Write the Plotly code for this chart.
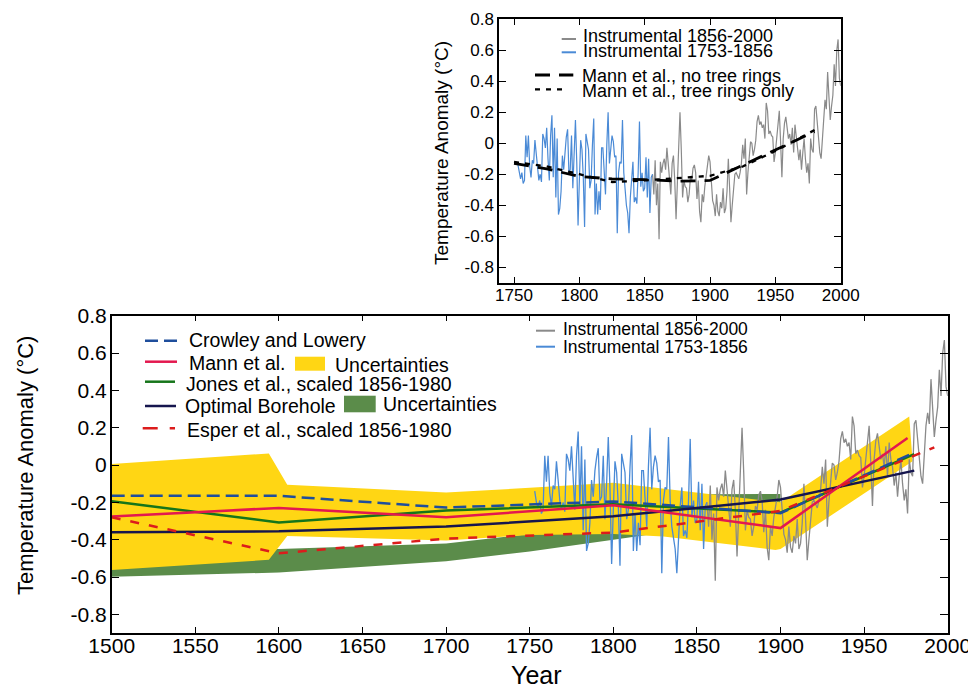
import plotly.graph_objects as go

# The page body adds an 8px offset; figure is sized so that it fills the 976x690 view.
OFF = 8
W, H = 976 - OFF, 690 - OFF


def px(x):
    return (x - OFF) / W


def py(y):
    return 1 - (y - OFF) / H


# ---------------- data ----------------
# Instrumental record (yearly anomalies)
blue_start = 1753
inst_blue = [
    -0.14, -0.20, -0.23, -0.19, -0.26, -0.24, 0.05, -0.09, 0.05, -0.15,
    -0.22, -0.11, -0.13, 0.02, -0.08, -0.19, -0.24, -0.20, -0.25, 0.06,
    0.03, -0.03, 0.10, -0.10, -0.24, 0.05, 0.18, -0.22, 0.10, -0.35,
    0.03, -0.46, -0.42, -0.31, -0.08, -0.17, -0.03, 0.04, 0.09, -0.19,
    -0.17, 0.05, -0.29, -0.10, 0.15, -0.12, -0.53, -0.24, 0.02, -0.04,
    -0.22, -0.54, 0.06, 0.01, -0.04, -0.29, -0.24, -0.01, 0.16, -0.46,
    -0.26, -0.46, -0.31, -0.43, -0.03, -0.03, -0.22, -0.33, -0.01, 0.20,
    -0.13, -0.01, 0.05, 0.01, -0.09, -0.08, -0.58, -0.19, -0.12, -0.13,
    0.15, -0.19, -0.33, -0.40, -0.45, -0.58, -0.35, -0.22, -0.12, -0.38,
    -0.35, -0.39, -0.19, 0.14, -0.28, -0.19, -0.31, -0.29, -0.09, -0.35,
    -0.10, -0.45, -0.22, -0.20,
]
grey_start = 1856
inst_grey = [
    -0.20, -0.33, -0.11, -0.40, -0.26, -0.62, -0.12, -0.19, -0.13, -0.10,
    -0.17, -0.03, -0.13, -0.24, -0.33, -0.13, -0.08, -0.24, -0.49, -0.26,
    -0.04, 0.20, -0.04, -0.35, -0.24, -0.28, -0.29, -0.38, -0.33, -0.22,
    -0.24, -0.16, -0.14, -0.19, -0.36, -0.24, -0.44, -0.51, -0.33, -0.38,
    -0.28, -0.22, -0.17, -0.08, -0.12, -0.24, -0.37, -0.40, -0.47, -0.33,
    -0.44, -0.47, -0.38, -0.42, -0.29, -0.45, -0.42, -0.31, -0.10, -0.29,
    -0.51, -0.40, -0.28, -0.20, -0.19, -0.21, -0.23, -0.19, -0.13, -0.01,
    -0.10, 0.03, -0.33, -0.19, -0.10, 0.01, 0.00, -0.08, -0.04, 0.02,
    0.14, 0.18, 0.12, 0.14, 0.10, 0.12, 0.03, 0.26, 0.21, 0.06,
    0.08, 0.05, 0.04, -0.12, -0.06, 0.03, 0.08, 0.21, 0.01, -0.22,
    0.03, 0.13, 0.17, 0.08, 0.03, 0.06, -0.01, 0.10, -0.06, 0.12,
    0.03, -0.01, -0.11, -0.04, -0.17, -0.06, 0.03, -0.10, -0.19, -0.13,
    -0.26, 0.03, -0.04, -0.06, 0.22, 0.24, 0.13, 0.03, -0.06, -0.10,
    0.03, 0.21, 0.28, 0.22, 0.46, 0.30, 0.15, 0.24, 0.31, 0.51,
    0.37, 0.60, 0.67, 0.42, 0.37,
]
blue_years = list(range(blue_start, blue_start + len(inst_blue)))
grey_years = list(range(grey_start, grey_start + len(inst_grey)))

# Reconstructions (main panel)
recon_years = [1500, 1600, 1700, 1800, 1900, 1980]
crowley = [-0.165, -0.165, -0.228, -0.195, -0.258, 0.067]
jones = [-0.194, -0.308, -0.244, -0.21, -0.255, 0.058]
borehole = [-0.36, -0.355, -0.33, -0.275, -0.185, -0.03]
mann_years = [1500, 1600, 1700, 1800, 1900, 1976]
mann = [-0.276, -0.23, -0.28, -0.216, -0.338, 0.145]
esper_years = [1500, 1600, 1700, 1800, 1900, 1992]
esper = [-0.28, -0.473, -0.394, -0.362, -0.246, 0.095]

# Mann et al. uncertainty band (yellow)
mann_unc_up_years = [1500, 1594, 1605, 1700, 1750, 1800, 1900, 1977]
mann_unc_up = [0.005, 0.062, -0.106, -0.147, -0.122, -0.095, -0.2, 0.26]
mann_unc_lo_years = [1500, 1594, 1605, 1700, 1750, 1800, 1830, 1897, 1900, 1979]
mann_unc_lo = [-0.562, -0.508, -0.38, -0.405, -0.375, -0.37, -0.383, -0.455, -0.45, 0.02]

# Borehole uncertainty band (green)
bore_unc_up_years = [1500, 1600, 1700, 1800, 1845, 1858, 1900]
bore_unc_up = [-0.45, -0.45, -0.42, -0.32, -0.22, -0.157, -0.155]
bore_unc_lo_years = [1500, 1600, 1700, 1750, 1800, 1825, 1860, 1900]
bore_unc_lo = [-0.598, -0.576, -0.515, -0.464, -0.40, -0.368, -0.33, -0.26]

# Inset: Mann et al. variants
inset_years = [1750, 1775, 1800, 1825, 1850, 1875, 1900, 1925, 1950, 1980]
mann_no_tree = [-0.13, -0.165, -0.215, -0.23, -0.235, -0.245, -0.24, -0.14, -0.045, 0.075]
mann_tree_only = [-0.12, -0.15, -0.2, -0.25, -0.24, -0.225, -0.21, -0.15, -0.05, 0.085]

x_ticks_main = [1500, 1550, 1600, 1650, 1700, 1750, 1800, 1850, 1900, 1950, 2000]
x_ticks_inset = [1750, 1800, 1850, 1900, 1950, 2000]
y_ticks = [-0.8, -0.6, -0.4, -0.2, 0, 0.2, 0.4, 0.6, 0.8]
y_ticktext = ["-0.8", "-0.6", "-0.4", "-0.2", "0", "0.2", "0.4", "0.6", "0.8"]

# ---------------- styles ----------------
C_GREY = "#8a8a8a"
C_BLUE = "#4a8ad6"
C_CROW = "#1f4e9c"
C_MANN = "#e3184f"
C_JONES = "#16751a"
C_BORE = "#16164e"
C_ESPER = "#dc1c1c"
C_YEL = "#ffd614"
C_GRN = "#5b8c4a"
FONT = "Liberation Sans, Arial, Helvetica, sans-serif"

fig = go.Figure()


def band(up_x, up_y, lo_x, lo_y, color, xa, ya):
    return go.Scatter(
        x=list(up_x) + list(lo_x)[::-1],
        y=list(up_y) + list(lo_y)[::-1],
        fill="toself", fillcolor=color, mode="lines",
        line=dict(width=0, color=color), hoverinfo="skip",
        xaxis=xa, yaxis=ya, showlegend=False,
    )


def line(x, y, color, width, xa, ya, dash="solid"):
    return go.Scatter(
        x=x, y=y, mode="lines", line=dict(color=color, width=width, dash=dash),
        xaxis=xa, yaxis=ya, showlegend=False, hoverinfo="skip",
    )


# main panel
fig.add_trace(band(bore_unc_up_years, bore_unc_up, bore_unc_lo_years, bore_unc_lo, C_GRN, "x", "y"))
fig.add_trace(band(mann_unc_up_years, mann_unc_up, mann_unc_lo_years, mann_unc_lo, C_YEL, "x", "y"))
fig.add_trace(line(grey_years, inst_grey, C_GREY, 1.3, "x", "y"))
fig.add_trace(line(blue_years, inst_blue, C_BLUE, 1.3, "x", "y"))
fig.add_trace(line(recon_years, jones, C_JONES, 2.5, "x", "y"))
fig.add_trace(line(recon_years, crowley, C_CROW, 2.5, "x", "y", dash="13px,6px"))
fig.add_trace(line(recon_years, borehole, C_BORE, 2.5, "x", "y"))
fig.add_trace(line(mann_years, mann, C_MANN, 2.5, "x", "y"))
fig.add_trace(line(esper_years, esper, C_ESPER, 2.5, "x", "y", dash="9px,10px"))

# inset panel
fig.add_trace(line(grey_years, inst_grey, C_GREY, 1.2, "x2", "y2"))
fig.add_trace(line(blue_years, inst_blue, C_BLUE, 1.2, "x2", "y2"))
fig.add_trace(line(inset_years, mann_no_tree, "black", 2.8, "x2", "y2", dash="15px,9px"))
fig.add_trace(line(inset_years, mann_tree_only, "black", 2.3, "x2", "y2", dash="5px,6px"))

axis_common = dict(
    showline=True, linecolor="black", linewidth=1.5, mirror="ticks",
    ticks="inside", tickcolor="black", tickwidth=1.2, showgrid=False,
    zeroline=False, fixedrange=True, automargin=False,
)

fig.update_layout(
    width=W, height=H, margin=dict(l=0, r=0, t=0, b=0, pad=0, autoexpand=False),
    paper_bgcolor="white", plot_bgcolor="rgba(0,0,0,0)",
    font=dict(family=FONT, color="black"),
    showlegend=False,
    xaxis=dict(axis_common, domain=[px(111.7), px(947.7)], range=[1500, 2000],
               tickvals=x_ticks_main, ticklen=6, tickfont=dict(size=21),
               ticklabelstandoff=-7, anchor="y"),
    yaxis=dict(axis_common, domain=[py(633), py(315.7)], range=[-0.9, 0.8],
               tickvals=y_ticks, ticktext=y_ticktext, ticklen=8,
               tickfont=dict(size=21), ticklabelstandoff=-1, anchor="x"),
    xaxis2=dict(axis_common, domain=[px(499), px(840.7)], range=[1738.5, 2000],
                tickvals=x_ticks_inset, ticklen=6, tickfont=dict(size=17),
                ticklabelstandoff=-4, anchor="y2"),
    yaxis2=dict(axis_common, domain=[py(282.7), py(19.3)], range=[-0.9, 0.8],
                tickvals=y_ticks, ticktext=y_ticktext, ticklen=7,
                tickfont=dict(size=17), anchor="x2"),
)

annotations = []
shapes = []


def text(x, y, s, size, angle=0, xanchor="left"):
    annotations.append(dict(
        x=px(x), y=py(y), xref="paper", yref="paper", text=s, showarrow=False,
        xanchor=xanchor, yanchor="middle", textangle=angle, borderpad=0,
        font=dict(size=size, family=FONT, color="black"),
    ))


def sample(x0, x1, y, color, width, dash="solid"):
    shapes.append(dict(type="line", xref="paper", yref="paper",
                       x0=px(x0), x1=px(x1), y0=py(y), y1=py(y),
                       line=dict(color=color, width=width, dash=dash)))


def box(x0, x1, y0, y1, color):
    shapes.append(dict(type="rect", xref="paper", yref="paper",
                       x0=px(x0), x1=px(x1), y0=py(y1), y1=py(y0),
                       fillcolor=color, line=dict(width=0)))


# axis titles
text(25, 466, "Temperature Anomaly (°C)", 22, angle=-90, xanchor="center")
text(536, 675, "Year", 25, xanchor="center")
text(441, 153, "Temperature Anomaly (°C)", 19, angle=-90, xanchor="center")

# main legend
sample(145, 177, 340.7, C_CROW, 2.5, "13px,6px")
text(188, 340, "Crowley and Lowery", 19.5)
sample(145, 177, 361.7, C_MANN, 2.5)
text(188, 363, "Mann et al.", 19.5)
box(295, 325, 356.7, 370.7, C_YEL)
text(334, 365, "Uncertainties", 19.5)
sample(145, 175, 381.7, C_JONES, 2.5)
text(185, 384, "Jones et al., scaled 1856-1980", 19.5)
sample(145, 176, 406, C_BORE, 2.5)
text(184, 406, "Optimal Borehole", 19.5)
box(344, 375.7, 395.7, 412.3, C_GRN)
text(382, 403.5, "Uncertainties", 19.5)
sample(142.7, 175, 428.3, C_ESPER, 2.5, "15px,12px")
text(186, 429.5, "Esper et al., scaled 1856-1980", 19.5)

# main instrumental legend
sample(536, 555, 330.7, C_GREY, 2)
text(561.5, 328.5, "Instrumental 1856-2000", 17.5)
sample(536, 555, 346.7, C_BLUE, 2)
text(561.5, 346.5, "Instrumental 1753-1856", 17.5)

# inset legend
sample(561.7, 576, 39, C_GREY, 2)
text(582, 36, "Instrumental 1856-2000", 18)
sample(561.7, 576, 52.3, C_BLUE, 2)
text(582, 51.5, "Instrumental 1753-1856", 18)
sample(535, 573.3, 75, "black", 2.8, "15px,9px")
text(581, 76, "Mann et al., no tree rings", 18)
sample(535, 567, 89.3, "black", 2.3, "5px,6px")
text(581, 90.5, "Mann et al., tree rings only", 18)

fig.update_layout(annotations=annotations, shapes=shapes)

fig.write_html("out.html")
